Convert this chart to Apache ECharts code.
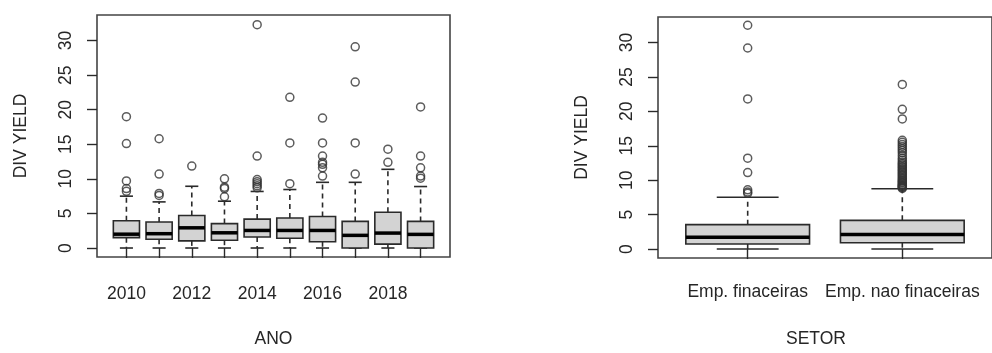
<!DOCTYPE html>
<html><head><meta charset="utf-8">
<script src="https://cdn.jsdelivr.net/npm/echarts@6/dist/echarts.min.js"></script>
<style>html,body{margin:0;padding:0;background:#fff}#c{width:992px;height:353px}</style>
</head><body><div id="c"></div>
<script>
// ---- data: DIV YIELD by year ----
const years = ['2010','2011','2012','2013','2014','2015','2016','2017','2018','2019'];
const yearLabelPositions = [1, 3, 5, 7, 9];
const yearLow    = [0, 0, 0, 0, 0, 0, 0, 0, 0, 0];
const yearQ1     = [1.5, 1.27, 1.03, 1.13, 1.6, 1.41, 0.9, 0.0, 0.56, 0.0];
const yearMedian = [2.0, 2.07, 2.92, 2.2, 2.54, 2.54, 2.54, 1.83, 2.16, 1.97];
const yearQ3     = [3.95, 3.76, 4.7, 3.53, 4.18, 4.33, 4.56, 3.85, 5.17, 3.85];
const yearHigh   = [7.5, 6.67, 8.93, 6.77, 8.18, 8.46, 9.5, 9.5, 11.38, 8.89];
const yearOutliers = [
  [19.0, 15.1, 9.7, 8.6, 8.2],
  [15.8, 10.7, 7.9, 7.6],
  [11.85],
  [10.0, 8.8, 8.6, 7.4],
  [32.3, 13.3, 9.9, 9.6, 9.3, 9.0, 8.7],
  [21.8, 15.2, 9.3],
  [18.8, 15.2, 13.3, 12.4, 12.1, 11.6, 10.4],
  [29.1, 24.0, 15.2, 10.7],
  [14.3, 12.4],
  [20.4, 13.3, 11.6, 10.4, 10.1]
];
// ---- data: DIV YIELD by sector ----
const sectors = ['Emp. finaceiras', 'Emp. nao finaceiras'];
const sectorLow    = [0, 0];
const sectorQ1     = [0.73, 0.92];
const sectorMedian = [1.7, 2.13];
const sectorQ3     = [3.54, 4.17];
const sectorHigh   = [7.52, 8.75];
const sectorOutliers = [
  [32.5, 29.2, 21.8, 13.2, 11.1, 8.6, 8.3, 8.1],
  [23.9, 20.3, 18.9, 15.8, 15.5, 15.2, 14.9, 14.6, 14.3, 14.0, 13.6, 13.2, 12.9, 12.6, 12.4,
   12.2, 12.0, 11.8, 11.6, 11.4, 11.2, 11.0, 10.8, 10.6, 10.4, 10.2, 10.0, 9.9, 9.7, 9.6,
   9.4, 9.3, 9.2, 9.1, 9.0, 8.9, 8.8]
];
const yTicks = [0, 5, 10, 15, 20, 25, 30];
const yMin = -1.3, yMax = 33.7;

const FONT = "'Liberation Sans', Arial, sans-serif";
const TXT = '#262626';
const STROKE = '#2a2a2a';

function boxRender(boxW) {
  return function (params, api) {
    const x = api.value(0);
    const lo = api.coord([x, api.value(1)]);
    const q1 = api.coord([x, api.value(2)]);
    const med = api.coord([x, api.value(3)]);
    const q3 = api.coord([x, api.value(4)]);
    const hi = api.coord([x, api.value(5)]);
    const w = api.size([boxW, 0])[0];
    const cx = lo[0], half = w / 2, cap = w / 4;
    return { type: 'group', children: [
      { type: 'line', shape: { x1: cx, y1: q3[1], x2: cx, y2: hi[1] }, style: { stroke: STROKE, lineWidth: 1.6, lineDash: [5, 4] } },
      { type: 'line', shape: { x1: cx, y1: q1[1], x2: cx, y2: lo[1] }, style: { stroke: STROKE, lineWidth: 1.6, lineDash: [5, 4] } },
      { type: 'line', shape: { x1: cx - cap, y1: hi[1], x2: cx + cap, y2: hi[1] }, style: { stroke: STROKE, lineWidth: 1.6 } },
      { type: 'line', shape: { x1: cx - cap, y1: lo[1], x2: cx + cap, y2: lo[1] }, style: { stroke: STROKE, lineWidth: 1.6 } },
      { type: 'rect', shape: { x: cx - half, y: q3[1], width: w, height: q1[1] - q3[1] }, style: { fill: '#d3d3d3', stroke: STROKE, lineWidth: 1.6 } },
      { type: 'line', shape: { x1: cx - half, y1: med[1], x2: cx + half, y2: med[1] }, style: { stroke: '#000', lineWidth: 3.5 } }
    ]};
  };
}

const yearBoxes = years.map((_, i) => [i + 1, yearLow[i], yearQ1[i], yearMedian[i], yearQ3[i], yearHigh[i]]);
const yearOut = yearOutliers.flatMap((arr, i) => arr.map(v => [i + 1, v]));
const sectorBoxes = sectors.map((_, i) => [i + 1, sectorLow[i], sectorQ1[i], sectorMedian[i], sectorQ3[i], sectorHigh[i]]);
const sectorOut = sectorOutliers.flatMap((arr, i) => arr.map(v => [i + 1, v]));

function yAxisCfg(gridIndex) {
  return {
    type: 'value', gridIndex, min: yMin, max: yMax,
    name: 'DIV YIELD', nameLocation: 'middle', nameGap: 67,
    nameTextStyle: { fontFamily: FONT, fontSize: 17.5, color: TXT },
    axisLine: { show: false },
    splitLine: { show: false },
    axisTick: { show: true, length: 10, customValues: yTicks, lineStyle: { color: STROKE, width: 1.4 } },
    axisLabel: { customValues: yTicks, rotate: 90, margin: 22, fontFamily: FONT, fontSize: 17.5, color: TXT }
  };
}

const chart = echarts.init(document.getElementById('c'), null, { renderer: 'canvas' });
chart.setOption({
  animation: false,
  backgroundColor: '#fff',
  grid: [
    { left: 97, top: 15, width: 353, height: 248, show: true, borderColor: '#444', borderWidth: 1.6, backgroundColor: 'transparent' },
    { left: 658, top: 17, width: 343, height: 243, show: true, borderColor: '#444', borderWidth: 1.6, backgroundColor: 'transparent' }
  ],
  xAxis: [
    {
      type: 'value', gridIndex: 0, min: 0.1, max: 10.9,
      name: 'ANO', nameLocation: 'middle', nameGap: 73,
      nameTextStyle: { fontFamily: FONT, fontSize: 17.5, color: TXT },
      axisLine: { show: false }, splitLine: { show: false },
      axisTick: { show: true, length: 10, customValues: years.map((_, i) => i + 1), lineStyle: { color: STROKE, width: 1.4 } },
      axisLabel: { customValues: yearLabelPositions, margin: 28, fontFamily: FONT, fontSize: 17.5, color: TXT,
                   formatter: v => years[Math.round(v) - 1] }
    },
    {
      type: 'value', gridIndex: 1, min: 0.42, max: 2.58,
      name: 'SETOR', nameLocation: 'middle', nameGap: 72,
      nameTextStyle: { fontFamily: FONT, fontSize: 17.5, color: TXT, padding: [0, 18, 0, 0] },
      axisLine: { show: false }, splitLine: { show: false },
      axisTick: { show: true, length: 10, customValues: [1, 2], lineStyle: { color: STROKE, width: 1.4 } },
      axisLabel: { customValues: [1, 2], margin: 25, fontFamily: FONT, fontSize: 17.5, color: TXT,
                   formatter: v => sectors[Math.round(v) - 1] }
    }
  ],
  yAxis: [yAxisCfg(0), yAxisCfg(1)],
  series: [
    { type: 'custom', xAxisIndex: 0, yAxisIndex: 0, renderItem: boxRender(0.8), data: yearBoxes, encode: { x: 0, y: [1, 2, 3, 4, 5] }, z: 2 },
    { type: 'scatter', xAxisIndex: 0, yAxisIndex: 0, data: yearOut, symbol: 'circle', symbolSize: 8,
      itemStyle: { color: 'rgba(0,0,0,0)', borderColor: '#333', borderWidth: 1.5 }, z: 3 },
    { type: 'custom', xAxisIndex: 1, yAxisIndex: 1, renderItem: boxRender(0.8), data: sectorBoxes, encode: { x: 0, y: [1, 2, 3, 4, 5] }, z: 2 },
    { type: 'scatter', xAxisIndex: 1, yAxisIndex: 1, data: sectorOut, symbol: 'circle', symbolSize: 8,
      itemStyle: { color: 'rgba(0,0,0,0)', borderColor: '#333', borderWidth: 1.5 }, z: 3 }
  ]
});
</script>
</body></html>
